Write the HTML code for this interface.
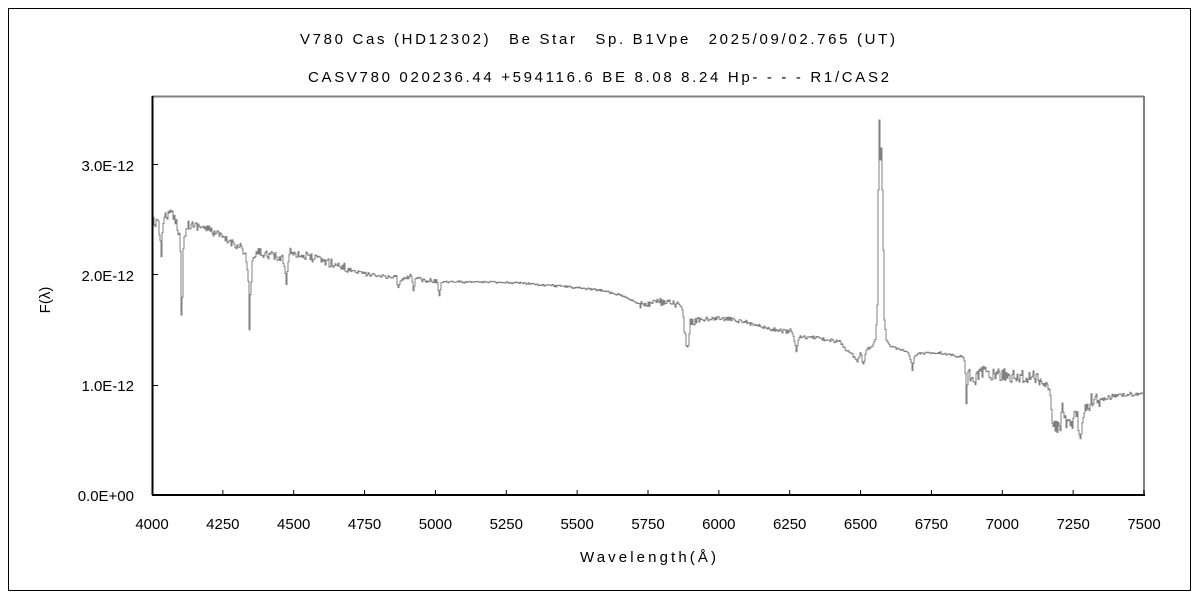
<!DOCTYPE html>
<html><head><meta charset="utf-8"><style>
html,body{margin:0;padding:0;background:#fff;}
svg{display:block;font-family:"Liberation Sans","Noto Sans CJK JP",sans-serif;}
</style></head><body>
<svg id="s" width="1200" height="600" viewBox="0 0 1200 600" xmlns="http://www.w3.org/2000/svg">
<rect x="0" y="0" width="1200" height="600" fill="#fff"/>
<rect x="8.5" y="8.5" width="1182" height="582" fill="none" stroke="#000" stroke-width="1"/>
<text x="300" y="44" font-size="15" textLength="595" lengthAdjust="spacing">V780 Cas (HD12302)　Be Star　Sp. B1Vpe　2025/09/02.765 (UT)</text>
<text x="308" y="82" font-size="15" textLength="581" lengthAdjust="spacing">CASV780 020236.44 +594116.6 BE 8.08 8.24 Hp- - - - R1/CAS2</text>
<line x1="152" y1="96.5" x2="1144" y2="96.5" stroke="#808080" stroke-width="2"/>
<line x1="1144" y1="96" x2="1144" y2="495" stroke="#808080" stroke-width="2"/>
<g id="ticks" stroke="#000" stroke-width="1"></g>
<path id="spec" fill="none" stroke="#808080" stroke-width="1"/>
<line x1="152.5" y1="96" x2="152.5" y2="495" stroke="#000" stroke-width="2"/>
<line x1="152" y1="495" x2="1145" y2="495" stroke="#000" stroke-width="2"/>
<g font-size="15" text-anchor="end">
<text x="134" y="171">3.0E-12</text>
<text x="134" y="281">2.0E-12</text>
<text x="134" y="391">1.0E-12</text>
<text x="134" y="501">0.0E+00</text>
</g>
<g id="xl" font-size="15" text-anchor="middle"></g>
<text x="648" y="562" font-size="15" text-anchor="middle" textLength="136" lengthAdjust="spacing">Wavelength(Å)</text>
<text x="0" y="0" font-size="15" text-anchor="middle" transform="translate(50,300) rotate(-90)">F(λ)</text>
</svg>
<script>
var ns="http://www.w3.org/2000/svg";
var tg=document.getElementById('ticks'),xl=document.getElementById('xl');
for(var i=0;i<=14;i++){var x=152+i*992/14;
 var l=document.createElementNS(ns,'line');l.setAttribute('x1',x);l.setAttribute('x2',x);l.setAttribute('y1',495);l.setAttribute('y2',490);tg.appendChild(l);
 var t=document.createElementNS(ns,'text');t.setAttribute('x',x);t.setAttribute('y',529);t.textContent=4000+250*i;xl.appendChild(t);}
[164.5,274.5,385.5].forEach(function(y){var l=document.createElementNS(ns,'line');l.setAttribute('x1',152);l.setAttribute('x2',158);l.setAttribute('y1',y);l.setAttribute('y2',y);tg.appendChild(l);});
var A=[[152,220],[158,225],[160,240],[161,253],[162,230],[165,215],[172,214],[176,222],[179,235],[180,250],[181,315],[182,300],[183,245],[186,225],[200,226],[215,233],[225,240],[240,246],[245,255],[248,280],[249,333],[250,295],[252,265],[256,252],[270,255],[283,260],[285,270],[286,287],[287,268],[290,250],[300,255],[320,260],[340,266],[355,272],[380,276],[396,278],[398,290],[400,280],[411,276],[413,292],[415,278],[437,282],[439,296],[441,282],[470,282],[500,282],[530,284],[560,286],[600,290],[620,295],[640,304],[660,302],[680,306],[682,310],[683,320],[686,345],[688,348],[690,322],[700,320],[720,318],[740,321],[760,326],[770,330],[790,331],[793,336],[796,350],[799,338],[810,337],[830,340],[840,342],[846,350],[852,355],[857,362],[860,352],[863,365],[866,350],[872,346],[875,340],[876,325],[877,305],[878,190],[879,120],[880,160],[881,148],[882,190],[883,250],[884,320],[886,340],[890,346],[900,350],[908,352],[911,362],[912,370],[914,356],[920,353],[940,353],[962,357],[964,360],[965,372],[966,407],[968,375],[975,378],[985,372],[1000,375],[1020,377],[1040,378],[1046,385],[1050,390],[1052,418],[1056,428],[1060,425],[1062,400],[1065,420],[1070,428],[1075,410],[1080,432],[1085,412],[1090,402],[1095,397],[1100,400],[1110,397],[1120,395],[1140,394],[1144,395]];
function f(x){for(var i=0;i<A.length-1;i++){if(x>=A[i][0]&&x<=A[i+1][0]){var t=(x-A[i][0])/((A[i+1][0]-A[i][0])||1);return A[i][1]+t*(A[i+1][1]-A[i][1]);}}return A[A.length-1][1];}
var seed=12345;function r(){seed=(seed*16807)%2147483647;return seed/2147483647-0.5;}
function amp(x){if(x<350)return 9;if(x<440)return 5;if(x<640)return 2.5;if(x<700)return 8;if(x<870)return 5;if(x>=876&&x<=884)return 0;if(x<965)return 2.5;if(x<1050)return 14;if(x<1100)return 16;return 5;}
var d="",y0=f(152);d="M152,"+y0.toFixed(1);
for(var x=153;x<=1144;x++){var y=f(x)+r()*amp(x);if(x%2==1&&amp(x)<6&&!(x>=876&&x<=884)){y=f(x)+r()*amp(x)*0.6;}
 d+=" H"+x+" V"+y.toFixed(1);}
document.getElementById('spec').setAttribute('d',d);
</script>
</body></html>
